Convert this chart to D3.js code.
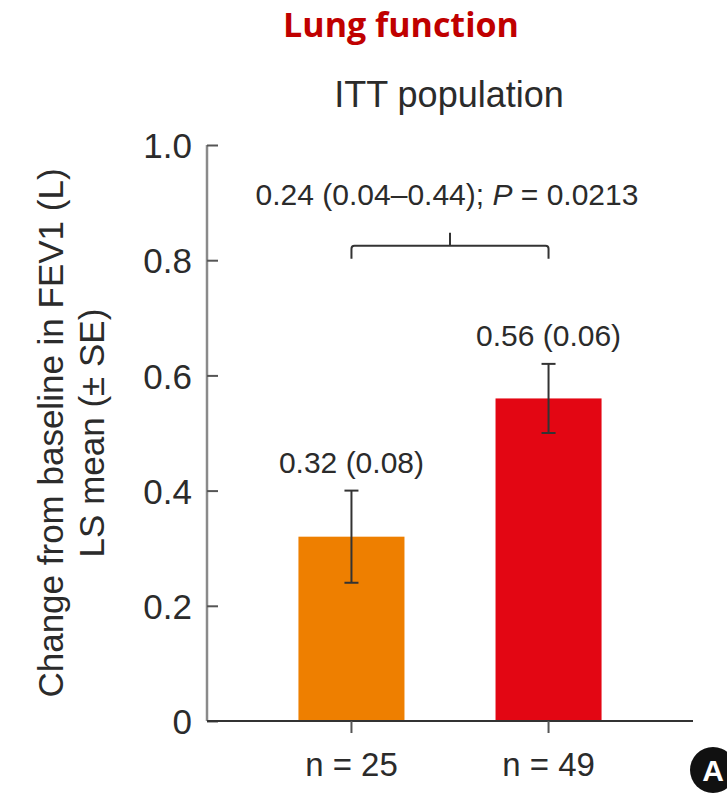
<!DOCTYPE html>
<html>
<head>
<meta charset="utf-8">
<script src="https://cdn.jsdelivr.net/npm/d3@7"></script>
<style>
  body { margin: 0; background: #fff; }
  svg text { font-family: "Liberation Sans", Arial, sans-serif; fill: #2b2b2b; }
</style>
</head>
<body>
<div id="chart"></div>
<script>
// data
const groups = ["n = 25", "n = 49"];
const means = [0.32, 0.56];
const ses = [0.08, 0.06];
const valueLabels = ["0.32 (0.08)", "0.56 (0.06)"];
const barColors = ["#EE7F00", "#E30613"];
const yTicks = [0, 0.2, 0.4, 0.6, 0.8, 1.0];
const diffLabel = ["0.24 (0.04\u20130.44); ", "P", " = 0.0213"];
const bracketLevel = 0.825;

const W = 727, H = 798;
const margin = {top: 145, right: 34, bottom: 77, left: 207};

const svg = d3.select("#chart").append("svg")
    .attr("width", W)
    .attr("height", H);

const x = d3.scaleBand()
    .domain(groups)
    .range([margin.left, W - margin.right])
    .paddingInner(0.462)
    .paddingOuter(0.464);

const y = d3.scaleLinear()
    .domain([0, 1])
    .range([H - margin.bottom, margin.top]);

// titles
svg.append("text")
    .attr("x", 401).attr("y", 37)
    .attr("text-anchor", "middle")
    .style("font-family", "'Open Sans', sans-serif")
    .style("font-weight", "bold")
    .style("font-size", "34px")
    .style("fill", "#C00000")
    .text("Lung function");

svg.append("text")
    .attr("x", 449).attr("y", 107)
    .attr("text-anchor", "middle")
    .style("font-size", "36px")
    .text("ITT population");

// bars
svg.selectAll(".bar")
    .data(groups)
    .join("rect")
    .attr("class", "bar")
    .attr("x", d => x(d))
    .attr("width", x.bandwidth())
    .attr("y", (d, i) => y(means[i]))
    .attr("height", (d, i) => y(0) - y(means[i]))
    .attr("fill", (d, i) => barColors[i]);

// error bars
const err = svg.selectAll(".err")
    .data(groups)
    .join("g")
    .attr("class", "err")
    .attr("stroke", "#333")
    .attr("stroke-width", 2);

err.append("line")
    .attr("x1", d => x(d) + x.bandwidth() / 2)
    .attr("x2", d => x(d) + x.bandwidth() / 2)
    .attr("y1", (d, i) => y(means[i] - ses[i]))
    .attr("y2", (d, i) => y(means[i] + ses[i]));

[-1, 1].forEach(s => {
    err.append("line")
        .attr("x1", d => x(d) + x.bandwidth() / 2 - 7)
        .attr("x2", d => x(d) + x.bandwidth() / 2 + 7)
        .attr("y1", (d, i) => y(means[i] + s * ses[i]))
        .attr("y2", (d, i) => y(means[i] + s * ses[i]));
});

// value labels
svg.selectAll(".vlab")
    .data(groups)
    .join("text")
    .attr("class", "vlab")
    .attr("x", d => x(d) + x.bandwidth() / 2)
    .attr("y", (d, i) => y(means[i] + ses[i]) - 18)
    .attr("text-anchor", "middle")
    .style("font-size", "30px")
    .text((d, i) => valueLabels[i]);

// bracket
const bx0 = x(groups[0]) + x.bandwidth() / 2;
const bx1 = x(groups[1]) + x.bandwidth() / 2;
const by = y(bracketLevel);
const bmid = (bx0 + bx1) / 2;
svg.append("path")
    .attr("d", `M${bx0},${by + 13} L${bx0},${by + 3} Q${bx0},${by} ${bx0 + 3},${by} L${bx1 - 3},${by} Q${bx1},${by} ${bx1},${by + 3} L${bx1},${by + 13} M${bmid},${by} L${bmid},${by - 13}`)
    .attr("fill", "none")
    .attr("stroke", "#333")
    .attr("stroke-width", 2);

const diffText = svg.append("text")
    .attr("x", bmid - 3).attr("y", by - 41)
    .attr("text-anchor", "middle")
    .style("font-size", "30px");
diffText.selectAll("tspan")
    .data(diffLabel)
    .join("tspan")
    .style("font-style", (d, i) => i === 1 ? "italic" : "normal")
    .text(d => d);

// y axis
const yAxis = svg.append("g")
    .attr("transform", `translate(${margin.left},0)`)
    .call(d3.axisRight(y).tickValues(yTicks).tickSize(11).tickFormat(d => d === 0 ? "0" : d3.format(".1f")(d)));
yAxis.select(".domain").attr("stroke", "#8a8a8a").attr("stroke-width", 2.5)
    .attr("d", `M0,${y(1)}V${y(0)}`);
yAxis.selectAll(".tick line").attr("stroke", "#555").attr("stroke-width", 2);
yAxis.selectAll(".tick text")
    .attr("x", -15)
    .attr("text-anchor", "end")
    .attr("dy", "0.36em")
    .style("font-size", "35px")
    .style("font-family", "'Liberation Sans', Arial, sans-serif")
    .style("fill", "#2b2b2b")
    .attr("fill", null);

// x axis
const xAxis = svg.append("g")
    .attr("transform", `translate(0,${y(0)})`)
    .call(d3.axisBottom(x).tickSize(12).tickSizeOuter(0));
xAxis.select(".domain").attr("stroke", "#333").attr("stroke-width", 2)
    .attr("d", `M${margin.left},0H${W - margin.right}`);
xAxis.selectAll(".tick line").attr("stroke", "#555").attr("stroke-width", 2);
xAxis.selectAll(".tick text")
    .attr("y", 55)
    .attr("dy", 0)
    .style("font-size", "33px")
    .style("font-family", "'Liberation Sans', Arial, sans-serif")
    .style("fill", "#2b2b2b")
    .attr("fill", null);

// y axis title
const yMid = (y(0) + y(1)) / 2;
svg.append("text")
    .attr("transform", `translate(63,${yMid}) rotate(-90)`)
    .attr("text-anchor", "middle")
    .style("font-size", "35px")
    .text("Change from baseline in FEV1 (L)");
svg.append("text")
    .attr("transform", `translate(104,${yMid}) rotate(-90)`)
    .attr("text-anchor", "middle")
    .style("font-size", "35px")
    .text("LS mean (\u00b1 SE)");

// panel letter
svg.append("circle")
    .attr("cx", 713).attr("cy", 770)
    .attr("r", 23)
    .attr("fill", "#111");
svg.append("text")
    .attr("x", 713).attr("y", 781)
    .attr("text-anchor", "middle")
    .style("font-size", "30px")
    .style("font-weight", "bold")
    .style("fill", "#fff")
    .text("A");
</script>
</body>
</html>
